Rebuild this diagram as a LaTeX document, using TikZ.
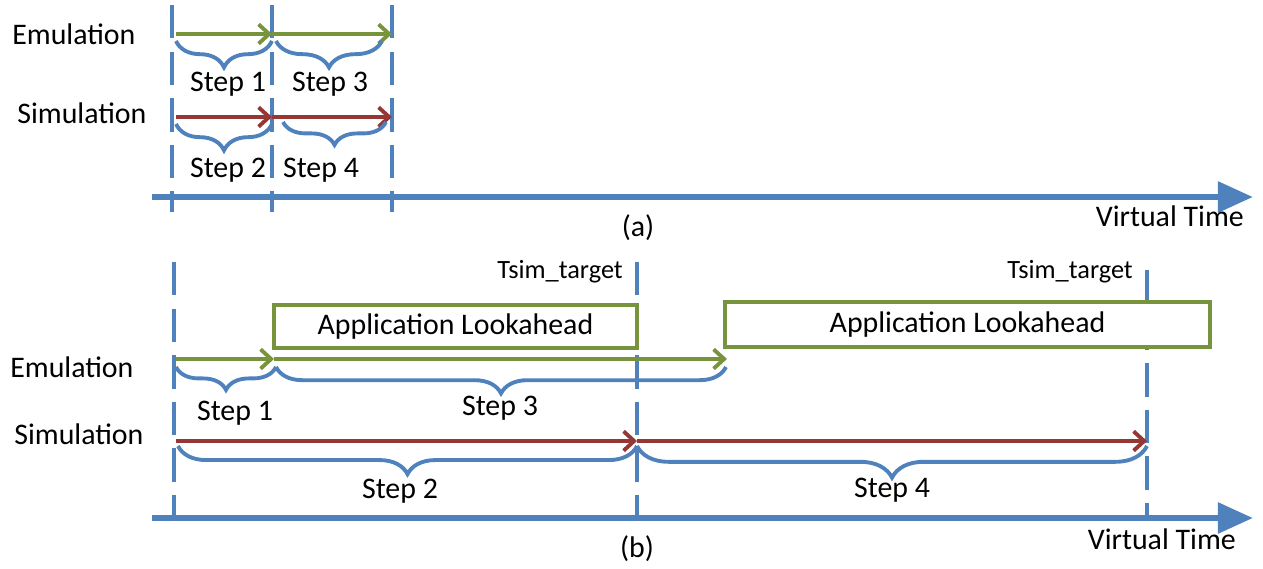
\documentclass[tikz,border=0pt]{standalone}
\usepackage{fontspec}
\setmainfont{Carlito}
\usepackage{tikz}
\usetikzlibrary{arrows.meta,decorations.pathreplacing}

\definecolor{tlblue}{HTML}{4F81BD}
\definecolor{emugreen}{HTML}{77933C}
\definecolor{simred}{HTML}{953735}

\begin{document}
\begin{tikzpicture}[x=0.02cm, y=-0.02cm,
    font=\fontsize{17pt}{20pt}\selectfont,
    tick/.style={tlblue, line width=2pt, dash pattern=on 19pt off 7.5pt},
    axis/.style={tlblue, line width=3.6pt, -{Triangle[length=20pt,width=17pt]}},
    emuarrow/.style={emugreen, line width=2.2pt, -{Straight Barb[length=6pt,width=11pt,line width=2.2pt]}},
    simarrow/.style={simred, line width=2.2pt, -{Straight Barb[length=6pt,width=11pt,line width=2.2pt]}},
    stepbrace/.style={tlblue, line width=2.2pt, decorate, decoration={brace, mirror, amplitude=#1}},
    lookbox/.style={draw=emugreen, line width=2.2pt, fill=white, inner sep=0pt}]
    \useasboundingbox (0,0) rectangle (1263,568);

    % ---------- (a) ----------
    % Time ticks
    \draw[tick] (172,5) -- (172,212);
    \draw[tick] (272,5) -- (272,212);
    \draw[tick] (392,5) -- (392,212);

    % Virtual time axis
    \coordinate (a-start) at (152,197);
    \coordinate (a-end) at (1253,197);
    \draw[axis] (a-start) -- (a-end);
    \node[anchor=east] (a-vt) at (1250,216) {Virtual Time};
    \node (a-cap) at (638,228) {(a)};

    % Rows
    \node[anchor=west, inner sep=0pt] (a-emu) at (12,34) {Emulation};
    \node[anchor=west, inner sep=0pt] (a-sim) at (17,113) {Simulation};

    % Emulation steps
    \coordinate (a-e0) at (176,34);
    \coordinate (a-e1) at (272,34);
    \coordinate (a-e2) at (392,34);
    \draw[emuarrow] (a-e0) -- (a-e1);
    \draw[emuarrow] (a-e1) -- (a-e2);
    \draw[stepbrace=15pt] (176,41) -- (272,41);
    \draw[stepbrace=15pt] (276,41) -- (382,41);
    \node (a-s1) at (228,84) {Step 1};
    \node (a-s3) at (330,84) {Step 3};

    % Simulation steps
    \coordinate (a-m0) at (176,117);
    \coordinate (a-m1) at (272,117);
    \coordinate (a-m2) at (392,117);
    \draw[simarrow] (a-m0) -- (a-m1);
    \draw[simarrow] (a-m1) -- (a-m2);
    \draw[stepbrace=15pt] (176,124) -- (272,124);
    \draw[stepbrace=13pt] (283,122) -- (386,122);
    \node (a-s2) at (228,170) {Step 2};
    \node (a-s4) at (321,170) {Step 4};

    % ---------- (b) ----------
    % Time ticks
    \draw[tick] (174,262) -- (174,520);
    \draw[tick] (637,262) -- (637,520);
    \draw[tick] (1147,270) -- (1147,520);

    % Virtual time axis
    \coordinate (b-start) at (152,518);
    \coordinate (b-end) at (1253,518);
    \draw[axis] (b-start) -- (b-end);
    \node[anchor=east] (b-vt) at (1242,539) {Virtual Time};
    \node (b-cap) at (637,549) {(b)};

    % Targets
    \node[anchor=east, font=\fontsize{15pt}{18pt}\selectfont] (b-t1) at (629,272) {Tsim\_target};
    \node[anchor=east, font=\fontsize{15pt}{18pt}\selectfont] (b-t2) at (1139,272) {Tsim\_target};

    % Lookahead windows
    \node[lookbox, minimum width=7.26cm, minimum height=0.86cm] (b-look1) at (455.5,326.5) {Application Lookahead};
    \node[lookbox, minimum width=9.7cm, minimum height=0.9cm] (b-look2) at (967.5,324.5) {Application Lookahead};

    % Rows
    \node[anchor=west, inner sep=0pt] (b-emu) at (10,367) {Emulation};
    \node[anchor=west, inner sep=0pt] (b-sim) at (14,434) {Simulation};

    % Emulation steps
    \coordinate (b-e0) at (176,359);
    \coordinate (b-e1) at (274,359);
    \coordinate (b-e2) at (727,359);
    \draw[emuarrow] (b-e0) -- (b-e1);
    \draw[emuarrow] (b-e1) -- (b-e2);
    \draw[stepbrace=13pt] (176,367) -- (276,367);
    \draw[stepbrace=15pt] (276,367) -- (726,367);
    \node (b-s1) at (235,413) {Step 1};
    \node (b-s3) at (500,408) {Step 3};

    % Simulation steps
    \coordinate (b-m0) at (176,441);
    \coordinate (b-m1) at (637,441);
    \coordinate (b-m2) at (1147,441);
    \draw[simarrow] (b-m0) -- (b-m1);
    \draw[simarrow] (b-m1) -- (b-m2);
    \draw[stepbrace=16pt] (178,446) -- (637,446);
    \draw[stepbrace=18pt] (637,446) -- (1147,446);
    \node (b-s2) at (400,491) {Step 2};
    \node (b-s4) at (892,490) {Step 4};
\end{tikzpicture}
\end{document}
